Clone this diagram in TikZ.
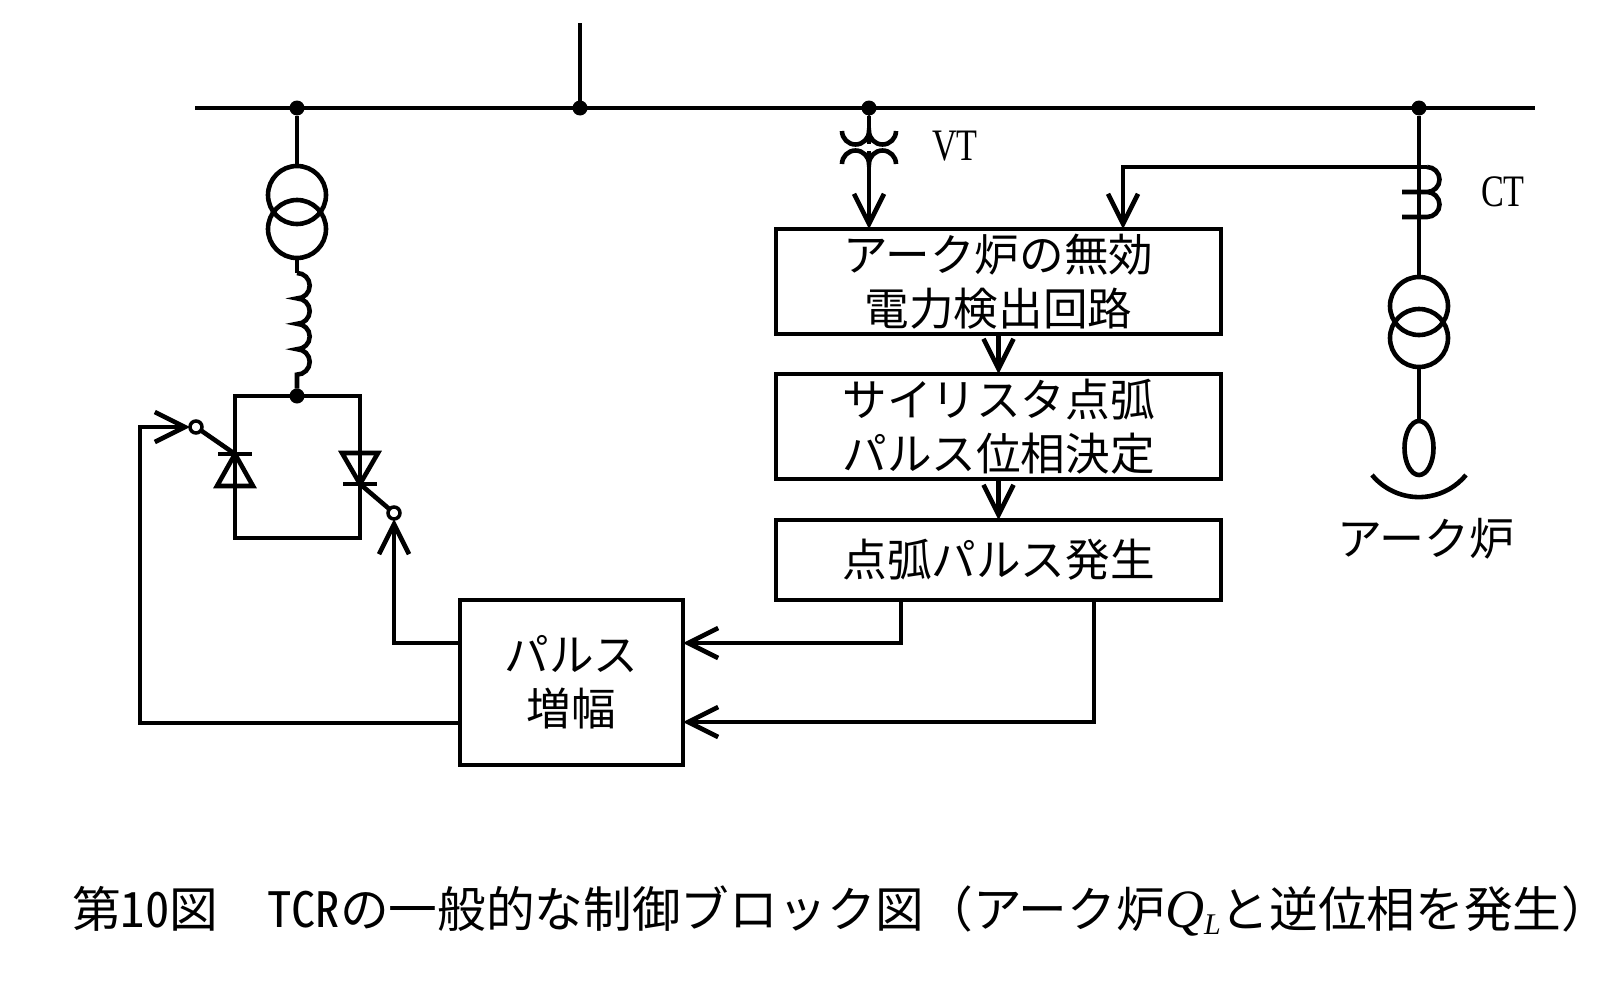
\documentclass[tikz,border=0pt]{standalone}
\usepackage{fontspec}
\usepackage{tikz}
\usetikzlibrary{arrows.meta,shapes.geometric}
\setmainfont{Noto Sans CJK JP}
\newfontfamily\hankaku[RawFeature=+hwid]{Noto Sans CJK JP}
\newfontfamily\narrowserif[FakeStretch=0.76]{Liberation Serif}
\newfontfamily\mathserif[ItalicFont={Liberation Serif Italic}]{Liberation Serif}

\tikzset{
  wire/.style={line width=4.6pt},
  blockbox/.style={rectangle, draw, line width=4.6pt, outer sep=0pt, inner sep=0pt, minimum width=445pt, font=\fontsize{44.6}{54}\selectfont, align=center},
  coilring/.style={circle, draw, line width=4.6pt, outer sep=0pt, inner sep=0pt, minimum size=58pt},
  junction/.style={circle, fill, inner sep=0pt, outer sep=0pt, minimum size=15pt},
  gatering/.style={circle, draw, line width=3.5pt, outer sep=0pt, inner sep=0pt, minimum size=12pt},
  barb/.style={-{Straight Barb[length=30pt,width=30pt,line width=4.6pt]}}
}

\begin{document}
\begin{tikzpicture}[x=1pt, y=-1pt, node distance=145pt]
\useasboundingbox (0,0) rectangle (1620,985);

% bus
\coordinate (busl) at (195,108);
\coordinate (busr) at (1535,108);
\coordinate (feed) at (580,23);
\node (jtr) [junction] at (297,108) {};
\node (jfeed) [junction] at (580,108) {};
\node (jvt) [junction] at (869,108) {};
\node (jct) [junction] at (1419,108) {};
\draw [wire] (busl) -- (busr);
\draw [wire] (feed) -- (jfeed);

% blocks
\node (detect) [blockbox, minimum height=105pt] at (998.5,281.5) {アーク炉の無効\\電力検出回路};
\node (phase) [blockbox, minimum height=105pt, below of=detect] {サイリスタ点弧\\パルス位相決定};
\node (pulse) [blockbox, minimum height=80pt] at (998.5,560) {点弧パルス発生};
\node (amp) [blockbox, minimum width=223pt, minimum height=165pt] at (571.5,682.5) {パルス\\増幅};
\draw [wire, barb] (detect) -- (phase);
\draw [wire, barb] (phase) -- (pulse);

% transformer and reactor
\node (tra) [coilring] at (297,195) {};
\node (trb) [coilring] at (297,229) {};
\coordinate (reac) at (297,273);
\node (jthy) [junction] at (297,396) {};
\draw [wire] (jtr) -- (tra);
\draw [wire] (trb) -- (reac);
\draw [wire] (reac) arc (90:-90:12.7pt) arc (90:-90:12.7pt) arc (90:-90:12.7pt) arc (90:-90:12.7pt) -- (jthy);

% thyristors
\coordinate (thyl) at (235,396);
\coordinate (thyr) at (360,396);
\coordinate (thyb) at (235,538);
\coordinate (thyc) at (360,538);
\coordinate (gatel) at (235,454);
\coordinate (gater) at (360,484);
\draw [wire] (thyl) -- (thyr) -- (thyc) -- (thyb) -- cycle;
\draw [wire, line join=miter] (gatel) -- (217,486) -- (253,486) -- cycle;
\draw [wire] (218,454) -- (252,454);
\draw [wire, line join=miter] (gater) -- (342,453) -- (378,453) -- cycle;
\draw [wire] (343,484) -- (377,484);
\node (ringl) [gatering] at (196,427) {};
\node (ringr) [gatering] at (394,513) {};
\draw [wire] (gatel) -- (ringl);
\draw [wire] (gater) -- (ringr);

% gate signals
\coordinate (ampl) at (460,723);
\coordinate (ampr) at (460,643);
\draw [wire, barb] (ampl) -| (140,427) -- (ringl);
\draw [wire, barb] (ampr) -| (ringr);

% VT
\coordinate (vtp) at (869,144);
\coordinate (vts) at (869,151);
\coordinate (vtin) at (869,229);
\draw [wire] (jvt) -- (vtp);
\draw [wire] (842,131) arc (180:360:13.5pt) arc (180:360:13.5pt);
\draw [wire] (842,164) arc (180:0:13.5pt) arc (180:0:13.5pt);
\draw [wire, barb] (vts) -- (vtin);
\node (vt) [font=\narrowserif\fontsize{45}{45}\selectfont] at (955,146) {VT};

% CT and furnace
\node (trc) [coilring] at (1419,306) {};
\node (trd) [coilring] at (1419,338) {};
\node (furn) [ellipse, draw, line width=4.6pt, outer sep=0pt, inner sep=0pt, minimum width=29pt, minimum height=54pt] at (1419,448) {};
\coordinate (ctin) at (1123,229);
\coordinate (cttop) at (1427,167);
\draw [wire] (jct) -- (trc);
\draw [wire] (trd) -- (furn);
\draw [wire, barb] (cttop) -| (ctin);
\draw [wire] (cttop) arc (90:-90:12.5pt) -- (1402,192) -- (1427,192) arc (90:-90:12.5pt) -- (1402,217);
\node (ct) [font=\narrowserif\fontsize{45}{45}\selectfont] at (1503,192) {CT};
\coordinate (hearth) at (1372,475);
\draw [wire] (hearth) arc (219.6:320.4:61pt);
\node (furnace) [font=\fontsize{45}{45}\selectfont] at (1426,539) {アーク炉};

% amp inputs
\coordinate (ampa) at (683,643);
\coordinate (ampb) at (683,722);
\coordinate (pulsea) at (901,600);
\coordinate (pulseb) at (1094,600);
\draw [wire, barb] (pulsea) |- (ampa);
\draw [wire, barb] (pulseb) |- (ampb);

% caption
\node (caption) [font=\fontsize{48.7}{48.7}\selectfont, anchor=west, inner sep=0pt] at (72,911) {第{\hankaku 10}図　{\hankaku TCR}の一般的な制御ブロック図（アーク炉{\mathserif\itshape\fontsize{54}{54}\selectfont Q\raisebox{-7pt}{\fontsize{30}{30}\selectfont L}}と逆位相を発生）};
\end{tikzpicture}
\end{document}
